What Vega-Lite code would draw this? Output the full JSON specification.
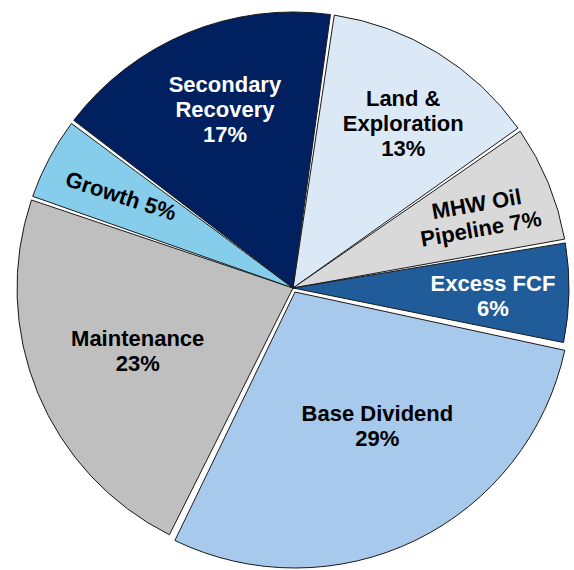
{
  "$schema": "https://vega.github.io/schema/vega-lite/v6.json",
  "width": 574,
  "height": 570,
  "autosize": {"type": "fit", "contains": "padding"},
  "padding": {"left": 12, "top": 10, "right": 0, "bottom": 0},
  "background": "white",
  "view": {"stroke": null},
  "config": {
    "text": {"font": "Liberation Sans", "fontWeight": "bold", "fontSize": 22, "lineHeight": 25, "lineBreak": "\n", "align": "center", "baseline": "middle", "color": "black"}
  },
  "data": {
    "values": [
      {"segment": "Land &\nExploration", "share": 13},
      {"segment": "MHW Oil\nPipeline", "share": 7},
      {"segment": "Excess FCF", "share": 6},
      {"segment": "Base Dividend", "share": 29},
      {"segment": "Maintenance", "share": 23},
      {"segment": "Growth", "share": 5},
      {"segment": "Secondary\nRecovery", "share": 17}
    ]
  },
  "transform": [
    {"stack": "share", "groupby": [], "as": ["t0", "t1"]},
    {"calculate": "(datum.t0 + datum.t1) / 2", "as": "tMid"},
    {"calculate": "datum.segment + ((indexof(datum.segment, 'Pipeline') >= 0 || datum.segment === 'Growth') ? ' ' : '\\n') + datum.share + '%'", "as": "label"}
  ],
  "encoding": {
    "theta": {"field": "t0", "type": "quantitative", "stack": null, "scale": {"domain": [0, 100], "range": [0.1431, 6.4263]}}
  },
  "layer": [
    {
      "transform": [{"filter": "datum.segment !== 'Base Dividend'"}],
      "mark": {"type": "arc", "stroke": "#1a1a1a", "strokeWidth": 1, "padAngle": 0.014},
      "encoding": {
        "theta2": {"field": "t1"},
        "color": {
          "field": "segment", "type": "nominal", "legend": null,
          "scale": {
            "domain": ["Land &\nExploration", "MHW Oil\nPipeline", "Excess FCF", "Base Dividend", "Maintenance", "Growth", "Secondary\nRecovery"],
            "range": ["#dbe8f6", "#d9d9d9", "#1f5c99", "#a7c9eb", "#bfbfbf", "#85cdea", "#00205f"]
          }
        }
      }
    },
    {
      "transform": [{"filter": "datum.segment === 'Base Dividend'"}],
      "mark": {"type": "arc", "stroke": "#1a1a1a", "strokeWidth": 1, "padAngle": 0.014, "xOffset": 2, "yOffset": 4},
      "encoding": {
        "theta2": {"field": "t1"},
        "color": {"field": "segment", "type": "nominal", "legend": null}
      }
    },
    {
      "transform": [{"filter": "indexof(datum.segment, 'Secondary') >= 0 || indexof(datum.segment, 'Land') >= 0"}],
      "mark": {"type": "text", "radius": 197, "dx": 7, "dy": -21},
      "encoding": {
        "theta": {"field": "tMid", "type": "quantitative"},
        "text": {"field": "label"},
        "color": {
          "condition": {"test": "indexof(datum.segment, 'Secondary') >= 0", "value": "white"},
          "value": "black"
        }
      }
    },
    {
      "transform": [{"filter": "indexof(datum.segment, 'Pipeline') >= 0 || datum.segment === 'Excess FCF'"}],
      "mark": {"type": "text", "radius": 199, "dx": 1, "dy": -7.5},
      "encoding": {
        "theta": {"field": "tMid", "type": "quantitative"},
        "text": {"field": "label"},
        "angle": {
          "condition": {"test": "indexof(datum.segment, 'Pipeline') >= 0", "value": 350},
          "value": 0
        },
        "color": {
          "condition": {"test": "datum.segment === 'Excess FCF'", "value": "white"},
          "value": "black"
        }
      }
    },
    {
      "transform": [{"filter": "datum.segment === 'Growth'"}],
      "mark": {"type": "text", "radius": 195, "angle": 18},
      "encoding": {
        "theta": {"field": "tMid", "type": "quantitative"},
        "text": {"field": "label"}
      }
    },
    {
      "transform": [{"filter": "datum.segment === 'Maintenance'"}],
      "mark": {"type": "text", "radius": 168, "dy": -13.5},
      "encoding": {
        "theta": {"field": "tMid", "type": "quantitative"},
        "text": {"field": "label"}
      }
    },
    {
      "transform": [{"filter": "datum.segment === 'Base Dividend'"}],
      "mark": {"type": "text", "radius": 156, "dx": 14, "dy": -18, "xOffset": 2, "yOffset": 4},
      "encoding": {
        "theta": {"field": "tMid", "type": "quantitative"},
        "text": {"field": "label"}
      }
    }
  ]
}
